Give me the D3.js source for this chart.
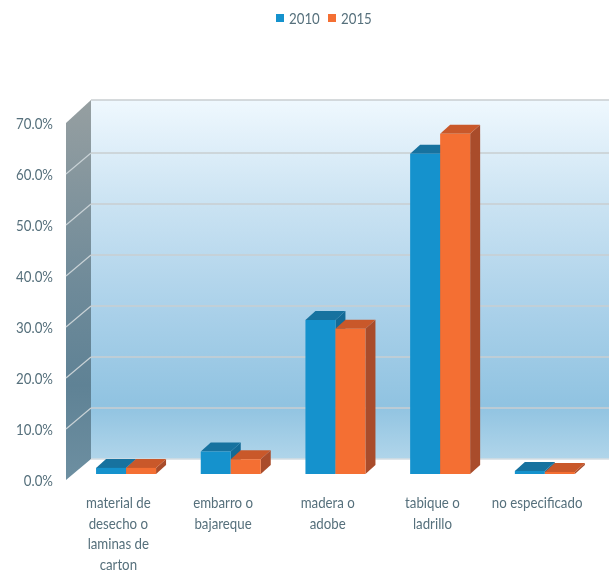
<!DOCTYPE html>
<html><head><meta charset="utf-8">
<script src="https://cdn.jsdelivr.net/npm/d3@7"></script>
<style>html,body{margin:0;padding:0;background:#fff;overflow:hidden}svg{display:block;filter:blur(.6px)}text{font-family:Lato,"Open Sans",sans-serif;fill:#56707c;font-size:15px}</style>
</head><body><svg id="c" width="609" height="573"></svg>
<script>
const categories=[["material de","desecho o","laminas de","carton"],["embarro o","bajareque"],["madera o","adobe"],["tabique o","ladrillo"],["no especificado"]];
const seriesNames=["2010","2015"];
const values2010=[1.2,4.4,30.2,62.8,0.6];
const values2015=[1.2,2.9,28.5,66.7,0.4];
const tickValues=[0,10,20,30,40,50,60,70];
const colors={"2010":{front:"#1592cd",top:"#17729f",side:"#136a96"},"2015":{front:"#f46f33",top:"#c9582a",side:"#a94c2b"}};

const W=609,wallDX=25,wallDY=21,baseUp=6,barW=30,depthX=10,depthY=9;
const svg=d3.select("#c");
const y=d3.scaleLinear().domain([0,70]).range([480,123]);
const barY=v=>y(v)-baseUp;
const x=d3.scaleBand().domain(d3.range(categories.length)).range([66,589.5]);
const sub=d3.scaleBand().domain(seriesNames).range([0,barW*2]);
const defs=svg.append("defs");
function grad(id,stops){const g=defs.append("linearGradient").attr("id",id).attr("x1",0).attr("x2",0).attr("y1",0).attr("y2",1);
 stops.forEach(s=>g.append("stop").attr("offset",s[0]).attr("stop-color",s[1]));}
grad("wall",[[0,"#eff8fe"],[.3,"#c9e2f2"],[.6,"#a9d0e9"],[.85,"#90c3e1"],[1,"#b0d5ea"]]);
grad("side",[[0,"#969fa1"],[.5,"#6e8a99"],[.75,"#5f8295"],[1,"#6d8fa1"]]);

svg.append("polygon").attr("fill","url(#side)")
 .attr("points",[[66,y(0)],[66,y(70)],[66+wallDX,y(70)-wallDY-2],[66+wallDX,y(0)-wallDY]].join(" "));
svg.append("rect").attr("x",66+wallDX).attr("width",W-66-wallDX).attr("y",y(70)-wallDY-2).attr("height",y(0)-y(70)+2).attr("fill","url(#wall)");
const grid=svg.append("g");
tickValues.forEach(t=>{
 const yb=y(t)-wallDY-(t==70?2:0);
 grid.append("line").attr("x1",66+wallDX).attr("x2",W).attr("y1",yb).attr("y2",yb).attr("stroke",t==0?"#d5dde2":"#c9ced1").attr("stroke-width",1.6);
 if(t>0&&t<70)grid.append("line").attr("x1",66).attr("y1",y(t)).attr("x2",66+wallDX).attr("y2",yb).attr("stroke","#c9d2d6").attr("stroke-width",1.2);
});
svg.append("g").selectAll("text").data(tickValues).join("text")
 .attr("x",53).attr("y",d=>y(d)+5.5).attr("text-anchor","end").text(d=>d.toFixed(1)+"%");

const rows=seriesNames.flatMap((s,si)=>categories.map((c,i)=>({s,i,v:(si?values2015:values2010)[i]})));
const bars=svg.append("g").selectAll("g").data(rows).join("g");
const bx=d=>x(d.i)+x.bandwidth()/2-22.3+sub(d.s);
const pts=a=>a.map(p=>p.join(",")).join(" ");
bars.append("polygon").attr("fill",d=>colors[d.s].side)
 .attr("points",d=>{const l=bx(d)+barW,t=barY(d.v),b=barY(0);return pts([[l,t],[l+depthX,t-depthY],[l+depthX,b-depthY],[l,b]]);});
bars.append("polygon").attr("fill",d=>colors[d.s].top)
 .attr("points",d=>{const l=bx(d),t=barY(d.v);return pts([[l,t],[l+depthX,t-depthY],[l+barW+depthX,t-depthY],[l+barW,t]]);});
bars.append("rect").attr("fill",d=>colors[d.s].front)
 .attr("x",bx).attr("y",d=>barY(d.v)).attr("width",barW).attr("height",d=>barY(0)-barY(d.v));

categories.forEach((lines,i)=>{
 lines.forEach((l,j)=>svg.append("text").attr("x",x(i)+x.bandwidth()/2).attr("y",508+j*20.6).attr("text-anchor","middle").text(l));
});
const lg=svg.append("g");
[[276,"2010"],[328,"2015"]].forEach(([lx,s])=>{
 lg.append("rect").attr("x",lx).attr("y",14).attr("width",8).attr("height",8).attr("fill",colors[s].front);
 lg.append("text").attr("x",lx+13).attr("y",24).text(s);
});
svg.selectAll("text").each(function(){this.setAttribute("lengthAdjust","spacingAndGlyphs");this.setAttribute("textLength",this.getComputedTextLength()*0.885);});
</script></body></html>
